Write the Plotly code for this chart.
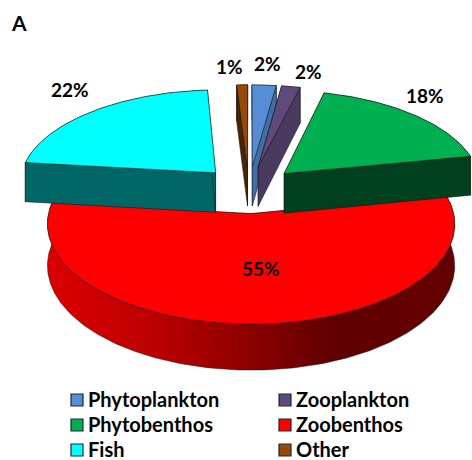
import math
import numpy as np
import plotly.graph_objects as go

# ---- data (labels are the rounded values) ----
categories = ["Phytoplankton", "Zooplankton", "Phytobenthos", "Zoobenthos", "Fish", "Other"]
values = [2.2, 1.7, 18.0, 54.9, 22.2, 1.0]

top_colors = ["#558ED5", "#604A7B", "#00B050", "#FF0000", "#00FFFF", "#984807"]
side_colors = ["#3F6EA8", "#4A3A60", "#00401F", "#8A0000", "#006666", "#4A2403"]

# ---- projection of the tilted pie ----
CX, Y0 = 249.0, 189.5
D, F, G, H = 10.0, 1975.0, 942.0, 403.0
EXPLODE = 0.25
DEPTH = 1.0


def project(X, Y, Z=0.0):
    w = D + np.asarray(Y, float)
    return (CX + F * np.asarray(X, float) / w,
            Y0 - G * np.asarray(Y, float) / w + H * np.asarray(Z, float) / w)


def poly(fig, X, Y, Z, color, gradient=None):
    sx, sy = project(X, Y, Z)
    kw = dict(fillcolor=color)
    if gradient:
        kw = dict(fillgradient=gradient)
    fig.add_trace(go.Scatter(
        x=list(sx) + [sx[0]], y=list(sy) + [sy[0]], mode="lines", fill="toself",
        line=dict(color="rgba(20,20,20,0.75)", width=0.7), hoverinfo="skip",
        showlegend=False, **kw))


starts = np.cumsum([0] + values[:-1]) * 3.6
ends = np.cumsum(values) * 3.6
red_gradient = dict(type="horizontal", colorscale=[
    [0.0, "#DC0000"], [0.25, "#BE0000"], [0.5, "#8C0000"], [0.7, "#600000"], [1.0, "#640000"]])

fig = go.Figure()
for i in [3, 4, 2, 5, 0, 1]:
    a0, a1 = math.radians(starts[i]), math.radians(ends[i])
    mid = (a0 + a1) / 2
    ax, ay = EXPLODE * math.sin(mid), EXPLODE * math.cos(mid)
    t = np.linspace(a0, a1, max(8, int(values[i] * 4)))
    rx, ry = ax + np.sin(t), ay + np.cos(t)
    # the outer wall
    poly(fig, np.r_[rx, rx[::-1]], np.r_[ry, ry[::-1]],
         np.r_[np.zeros_like(rx), np.full_like(rx, DEPTH)], side_colors[i],
         red_gradient if categories[i] == "Zoobenthos" else None)
    # the two cut faces
    for ex, ey in ((rx[0], ry[0]), (rx[-1], ry[-1])):
        poly(fig, [ax, ex, ex, ax], [ay, ey, ey, ay], [0, 0, DEPTH, DEPTH], side_colors[i])
    # the top face
    poly(fig, np.r_[ax, rx], np.r_[ay, ry], np.zeros(len(rx) + 1), top_colors[i])

# ---- legend, two columns of three rows ----
LEG_X = [77, 285]
LEG_Y = [400, 425, 450]
for i, name in enumerate(categories):
    fig.add_trace(go.Scatter(
        x=[LEG_X[i % 2]], y=[LEG_Y[i // 2]], mode="markers",
        name=name, hoverinfo="skip", showlegend=False,
        marker=dict(symbol="square", size=12, color=top_colors[i],
                    line=dict(color="#1A2A3A", width=1.2))))
    fig.add_annotation(x=LEG_X[i % 2] + 12, y=LEG_Y[i // 2] - 1, text=f"<b>{name}</b>",
                       showarrow=False, xanchor="left", xshift=-3,
                       font=dict(family="Lato", size=20, color="black"))

# ---- labels ----
label_pos = [(267, 63), (308, 71), (425, 95), (261, 268), (70, 89), (229, 66)]
fig.add_annotation(x=19, y=22, text="<b>A</b>", showarrow=False,
                   font=dict(family="Lato", size=21, color="black"))
for v, (lx, ly) in zip(values, label_pos):
    fig.add_annotation(x=lx, y=ly, text=f"<b>{round(v)}%</b>", showarrow=False,
                       font=dict(family="Lato", size=19, color="black"))

fig.update_layout(
    width=472, height=460, margin=dict(l=0, r=0, t=0, b=0),
    paper_bgcolor="white", plot_bgcolor="white", showlegend=False,
    xaxis=dict(range=[0, 472], visible=False, fixedrange=True),
    yaxis=dict(range=[460, 0], visible=False, fixedrange=True))
fig.write_html("out.html", config=dict(displayModeBar=False),
               post_script="document.body.style.margin='0';document.body.style.overflow='hidden';")
